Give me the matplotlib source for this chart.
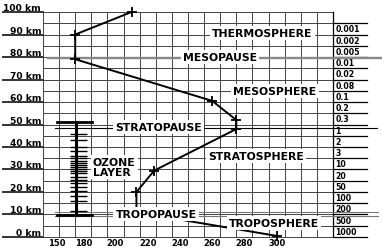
import matplotlib
matplotlib.use('Agg')
from matplotlib import pyplot as plt

# temperature profile (K) against altitude (km)
temp_k = [300, 213, 213, 224, 275, 275, 260, 175, 175, 210]
alt_km = [0.5, 11, 20, 29.5, 48, 52, 60.5, 79, 90, 100]

# bottom scale
tick_pos = [163.7, 180, 200, 220, 240, 260, 280, 300]
tick_labels = ['150', '180', '200', '220', '240', '260', '280', '300']

# altitude labels
km_levels = [0, 10, 20, 30, 40, 50, 60, 70, 80, 90, 100]

# pressure column, top row first (rows of 5 km from 95 km down)
pressure_labels = ['0.001', '0.002', '0.005', '0.01', '0.02', '0.08', '0.1', '0.2', '0.3',
                   '1', '2', '3', '10', '20', '50', '100', '200', '500', '1000']

# ozone layer bar ticks (km)
ozone_ticks = [45.8, 43.1, 39.9, 38.1, 36.1, 35.0, 33.9, 33.0, 32.1, 31.2, 30.4,
               29.5, 28.3, 26.8, 25.3, 23.9, 22.1, 20.3, 18.4, 15.9, 11.5]
ozone_top, ozone_base = 51, 9.6

# layer boundaries (km)
mesopause_km = 79.5
stratopause_km = 48.6
tropopause_km = 10.2

# layer names: text, temperature (K) of centre, altitude (km)
layer_names = ['THERMOSPHERE', 'MESOPAUSE', 'MESOSPHERE', 'STRATOPAUSE',
               'STRATOSPHERE', 'TROPOPAUSE', 'TROPOSPHERE']
layer_x = [291.2, 264.9, 299.0, 226.7, 287.2, 225.1, 298.4]
layer_y = [90.8, 80.0, 65.0, 48.8, 36.0, 10.2, 6.2]

font_size = 7.8
font_weight = 'bold'

fig = plt.figure(figsize=(3.82, 2.51), dpi=100)
ax = fig.add_axes([0, 0, 1, 1])
ax.set_xlim(128.31, 365.41)
ax.set_ylim(-5.78, 105.78)
ax.axis('off')

# grid
t_min, t_max = 155, 335
ax.vlines(range(t_min, t_max + 1, 10), 0, 100, color='#444444', linewidth=0.7, zorder=1)
ax.hlines(range(0, 101, 5), t_min, t_max, color='#444444', linewidth=0.7, zorder=1)

# km labels with dark underline
for km in km_levels:
    ax.plot([130.2, t_min], [km, km], color='#333333', linewidth=1.4, zorder=2, clip_on=False)
    ax.text(153.8, km + 2.0, '%d km' % km, ha='right', va='center',
            fontsize=6.6, fontweight=font_weight)

for pos, lab in zip(tick_pos, tick_labels):
    ax.text(pos, -2.4, lab, ha='center', va='center', fontsize=6.0, fontweight=font_weight)

# pressure column
for i, lab in enumerate(pressure_labels):
    top = 95 - 5 * i
    ax.plot([t_max, 356], [top - 5, top - 5], color='black', linewidth=0.9, zorder=2)
    ax.text(336.5, top - 2.5, lab, ha='left', va='center', fontsize=5.6, fontweight=font_weight)
ax.plot([t_max, 356], [95, 95], color='black', linewidth=0.9, zorder=2)
ax.plot([t_max, t_max], [0, 100], color='black', linewidth=0.9, zorder=2)

# boundary lines
ax.plot([158, 364.8], [mesopause_km, mesopause_km], color='#888888', linewidth=1.7, zorder=3)
ax.plot([162.4, 362.3], [stratopause_km, stratopause_km], color='black', linewidth=0.8, zorder=3)
ax.plot([162.4, 363], [tropopause_km + 0.7, tropopause_km + 0.7], color='#777777', linewidth=0.8, zorder=3)
ax.plot([162.4, 363], [tropopause_km - 0.7, tropopause_km - 0.7], color='#777777', linewidth=0.8, zorder=3)

# ozone layer bar
ax.plot([175.5, 175.5], [ozone_base, ozone_top], color='black', linewidth=2.2, zorder=4)
ax.plot([163.7, 185.4], [ozone_top, ozone_top], color='black', linewidth=2.0, zorder=4)
ax.plot([163.7, 185.4], [ozone_base, ozone_base], color='black', linewidth=2.0, zorder=4)
ax.hlines(ozone_ticks, 171.5, 182.5, color='black', linewidth=1.0, zorder=4)

# temperature profile
ax.plot(temp_k, alt_km, color='black', linewidth=1.4, marker='+', markersize=6.5,
        markeredgewidth=1.3, zorder=5)

box = dict(boxstyle='square,pad=0.2', facecolor='white', edgecolor='none')
for txt, x, y in zip(layer_names, layer_x, layer_y):
    ax.text(x, y, txt, ha='center', va='center', fontsize=font_size,
            fontweight=font_weight, bbox=box, zorder=6)
ax.text(186.0, 31.1, 'OZONE\nLAYER', ha='left', va='center', fontsize=font_size,
        fontweight=font_weight, linespacing=1.0, bbox=box, zorder=6)

fig.savefig('out.png', dpi=100)
